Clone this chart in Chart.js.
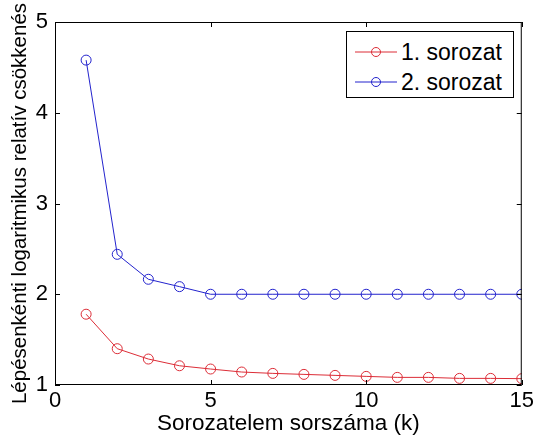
<!DOCTYPE html>
<html>
<head>
<meta charset="utf-8">
<script src="https://cdn.jsdelivr.net/npm/chart.js@4/dist/chart.umd.min.js"></script>
<style>
  html, body { margin: 0; padding: 0; background: #fff; }
  #wrap { position: relative; width: 537px; height: 441px; }
  #legend {
    position: absolute; left: 346px; top: 31px; width: 168px; height: 67px;
    box-sizing: border-box; border: 1px solid #000; background: #fff; padding-top: 5px;
    font-family: "Liberation Sans", Arial, sans-serif; font-size: 23px; color: #000;
  }
  #legend .row { display: flex; align-items: center; height: 30px; }
  #legend svg { margin-left: 7px; margin-right: 3px; }
</style>
</head>
<body>
<div id="wrap">
  <canvas id="c" width="537" height="441"></canvas>
  <div id="legend"></div>
</div>
<script>
const k_values = [1, 2, 3, 4, 5, 6, 7, 8, 9, 10, 11, 12, 13, 14, 15];
const series_1 = [1.78, 1.40, 1.286, 1.212, 1.176, 1.143, 1.128, 1.117, 1.106, 1.095, 1.084, 1.084, 1.073, 1.073, 1.07];
const series_2 = [4.58, 2.44, 2.165, 2.084, 2.0, 2.0, 2.0, 2.0, 2.0, 2.0, 2.0, 2.0, 2.0, 2.0, 2.0];
const series_names = ["1. sorozat", "2. sorozat"];
const series_colors = ["rgb(220,45,55)", "rgb(35,35,205)"];
const x_ticks = [0, 5, 10, 15];
const y_ticks = [1, 2, 3, 4, 5];
const x_title = "Sorozatelem sorszáma (k)";
const y_title = "Lépésenkénti logaritmikus relatív csökkenés";

const font_family = '"Liberation Sans", Arial, sans-serif';

function make_dataset(label, values, color) {
  return {
    label,
    data: values.map((v, i) => ({ x: k_values[i], y: v })),
    borderColor: color,
    backgroundColor: "transparent",
    borderWidth: 1,
    pointRadius: 5,
    pointHoverRadius: 5,
    pointBorderWidth: 1,
    pointBorderColor: color,
    pointBackgroundColor: "transparent",
    tension: 0,
  };
}

// frame around the axes and inward ticks, like the original plot
const frame_plugin = {
  id: "frame",
  afterDatasetsDraw(chart) {
    const { ctx, chartArea: a, scales } = chart;
    ctx.save();
    ctx.strokeStyle = "#000";
    ctx.lineWidth = 1;
    ctx.strokeRect(a.left + 0.5, a.top + 0.5, a.right - a.left - 1, a.bottom - a.top - 1);
    ctx.beginPath();
    x_ticks.forEach((t) => {
      const px = Math.round(scales.x.getPixelForValue(t)) + 0.5;
      ctx.moveTo(px, a.bottom); ctx.lineTo(px, a.bottom - 5);
      ctx.moveTo(px, a.top); ctx.lineTo(px, a.top + 5);
    });
    y_ticks.forEach((t) => {
      const py = Math.round(scales.y.getPixelForValue(t)) + 0.5;
      ctx.moveTo(a.left, py); ctx.lineTo(a.left + 5, py);
      ctx.moveTo(a.right, py); ctx.lineTo(a.right - 5, py);
    });
    ctx.stroke();
    ctx.restore();
  },
};

new Chart(document.getElementById("c"), {
  type: "line",
  data: {
    datasets: [
      make_dataset(series_names[0], series_1, series_colors[0]),
      make_dataset(series_names[1], series_2, series_colors[1]),
    ],
  },
  options: {
    responsive: false,
    animation: false,
    layout: { padding: { top: 22, right: 11, left: 0, bottom: 0 } },
    plugins: { legend: { display: false }, tooltip: { enabled: false } },
    scales: {
      x: {
        type: "linear",
        min: 0,
        max: 15,
        afterBuildTicks: (s) => { s.ticks = x_ticks.map((v) => ({ value: v })); },
        afterFit: (s) => { s.height = 56; },
        grid: { display: false, drawTicks: false },
        border: { display: false },
        ticks: { color: "#000", font: { family: font_family, size: 22 }, padding: 3, maxRotation: 0 },
        title: { display: true, text: x_title, color: "#000", font: { family: font_family, size: 22.5 }, padding: { top: 0, bottom: 4 } },
      },
      y: {
        type: "linear",
        min: 1,
        max: 5,
        afterBuildTicks: (s) => { s.ticks = y_ticks.map((v) => ({ value: v })); },
        afterFit: (s) => { s.width = 55; },
        grid: { display: false, drawTicks: false },
        border: { display: false },
        ticks: { color: "#000", font: { family: font_family, size: 22 }, padding: 7 },
        title: { display: true, text: y_title, color: "#000", font: { family: font_family, size: 20.5 }, padding: { top: 8, bottom: 0 } },
      },
    },
  },
  plugins: [frame_plugin],
});

// legend as real text
const legend = document.getElementById("legend");
series_names.forEach((name, i) => {
  const row = document.createElement("div");
  row.className = "row";
  row.innerHTML =
    '<svg width="44" height="14"><line x1="1" y1="7" x2="43" y2="7" stroke="' + series_colors[i] +
    '" stroke-width="1"/><circle cx="22" cy="7" r="4.5" fill="none" stroke="' + series_colors[i] +
    '" stroke-width="1"/></svg><span>' + name + "</span>";
  legend.appendChild(row);
});
</script>
</body>
</html>
